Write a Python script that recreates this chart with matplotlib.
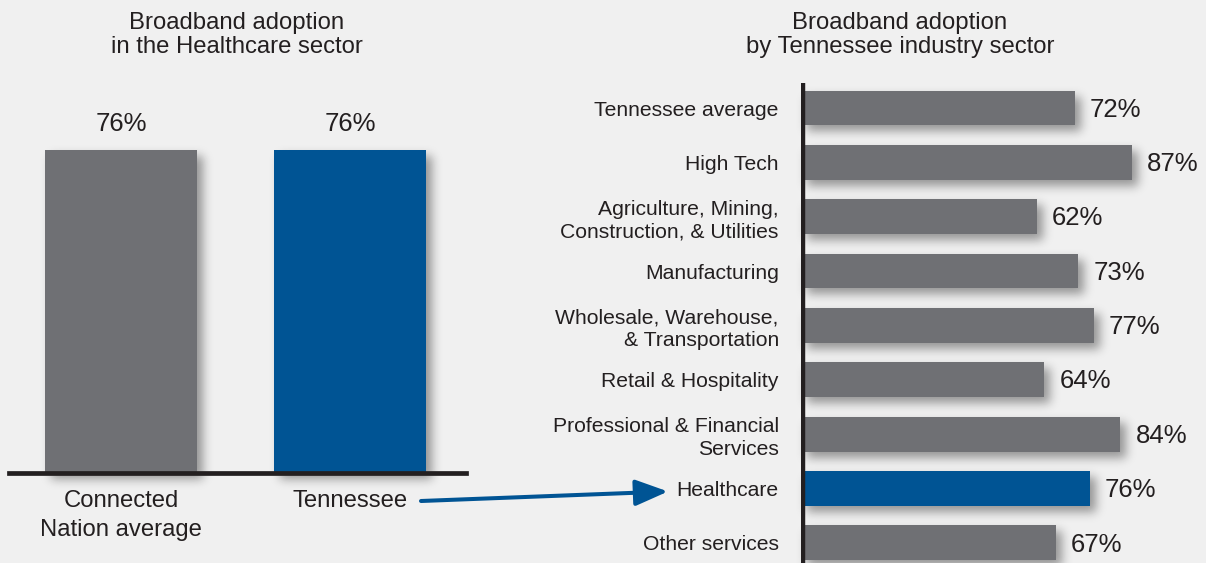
import numpy as np
import matplotlib
matplotlib.use("Agg")
import matplotlib.pyplot as plt
from matplotlib.patches import FancyArrowPatch

plt.rcParams['font.family'] = ['Liberation Sans', 'DejaVu Sans']

# ---- data ----
left_categories = ["Connected\nNation average", "Tennessee"]
left_values = [76, 76]

sectors = [
    "Tennessee average",
    "High Tech",
    "Agriculture, Mining,\nConstruction, & Utilities",
    "Manufacturing",
    "Wholesale, Warehouse,\n& Transportation",
    "Retail & Hospitality",
    "Professional & Financial\nServices",
    "Healthcare",
    "Other services",
]
sector_values = [72, 87, 62, 73, 77, 64, 84, 76, 67]
highlight_sector = "Healthcare"

left_title = "Broadband adoption\nin the Healthcare sector"
right_title = "Broadband adoption\nby Tennessee industry sector"

# ---- style ----
BG = "#f0f0f0"
GRAY = "#6f7074"
BLUE = "#005494"
INK = "#231f20"

W, H = 1206, 563
DPI = 100


def blur_shadow(sigma=5.0, dx=6, dy=6, alpha=0.38):
    """agg filter: soft drop shadow from the patch's alpha mask."""
    def _filter(im, dpi):
        pad = int(3 * sigma + max(abs(dx), abs(dy)) + 2)
        src = np.pad(im, ((pad, pad), (pad, pad), (0, 0)))
        a = src[..., 3].copy()
        r = int(3 * sigma)
        x = np.arange(-r, r + 1)
        k = np.exp(-0.5 * (x / sigma) ** 2)
        k /= k.sum()
        a = np.apply_along_axis(lambda m: np.convolve(m, k, mode="same"), 0, a)
        a = np.apply_along_axis(lambda m: np.convolve(m, k, mode="same"), 1, a)
        a = np.roll(a, dx, axis=1)
        a = np.roll(a, dy, axis=0)
        out = np.zeros_like(src)
        out[..., 3] = np.clip(a * alpha, 0, 1)
        return out, -pad, -pad
    return _filter


def px_axes(fig, x0, y0, x1, y1):
    """Axes placed by pixel box (y measured from top)."""
    return fig.add_axes([x0 / W, 1 - y1 / H, (x1 - x0) / W, (y1 - y0) / H])


fig = plt.figure(figsize=(W / DPI, H / DPI), dpi=DPI, facecolor=BG)

# ---- left: healthcare sector comparison ----
axl = px_axes(fig, 9, 48, 466, 473)
axl.set_facecolor("none")
xl = np.arange(len(left_values))
bw = 0.664
shadows = axl.bar(xl, left_values, width=bw, color="k", zorder=1)
for p in shadows:
    p.set_agg_filter(blur_shadow())
axl.bar(xl, left_values, width=bw, color=[GRAY, BLUE], zorder=2)
for x, v in zip(xl, left_values):
    axl.text(x, v + 6.2, f"{v}%", ha="center", va="center",
             fontsize=18.5, color=INK)
axl.axhline(0, color=INK, lw=3.4, zorder=3, clip_on=False)
axl.set_xlim(-0.489, 1.507)
axl.set_ylim(0, 100)
axl.set_xticks(xl, left_categories, fontsize=17.2, color=INK, linespacing=1.42)
axl.tick_params(axis="x", length=0, pad=12)
axl.set_yticks([])
for s in axl.spines.values():
    s.set_visible(False)

# ---- right: by industry sector ----
axr = px_axes(fig, 801, 83, 1181, 563)
axr.set_facecolor("none")
yr = np.arange(len(sectors))
bh = 0.64
colors = [BLUE if s == highlight_sector else GRAY for s in sectors]
shadows = axr.barh(yr, sector_values, height=bh, color="k", zorder=1)
for p in shadows:
    p.set_agg_filter(blur_shadow())
axr.barh(yr, sector_values, height=bh, color=colors, zorder=2)
for y, v in zip(yr, sector_values):
    axr.text(v + 4.0, y + 0.03, f"{v}%", ha="left", va="center",
             fontsize=18.5, color=INK, clip_on=False)
axr.axvline(0.5, color=INK, lw=3.2, zorder=3)
axr.set_xlim(0, 100)
axr.set_ylim(8.37, -0.46)
axr.set_yticks(yr, sectors, fontsize=15.2, color=INK, linespacing=1.25)
axr.tick_params(axis="y", length=0, pad=16)
axr.set_xticks([])
for s in axr.spines.values():
    s.set_visible(False)

# ---- titles ----
fig.text(237 / W, 1 - 35 / H, left_title, ha="center", va="center",
         fontsize=17.2, color=INK, linespacing=1.07)
fig.text(900 / W, 1 - 35 / H, right_title, ha="center", va="center",
         fontsize=17.2, color=INK, linespacing=1.07)

# ---- connector arrow: Tennessee -> Healthcare ----
arrow = FancyArrowPatch(
    (421, H - 501), (668, H - 491.5), transform=None,
    arrowstyle="-|>,head_length=2.0,head_width=0.8",
    mutation_scale=10, color=BLUE, lw=2.9, shrinkA=0, shrinkB=0,
)
fig.add_artist(arrow)

fig.savefig("out.png", dpi=DPI, facecolor=BG)
